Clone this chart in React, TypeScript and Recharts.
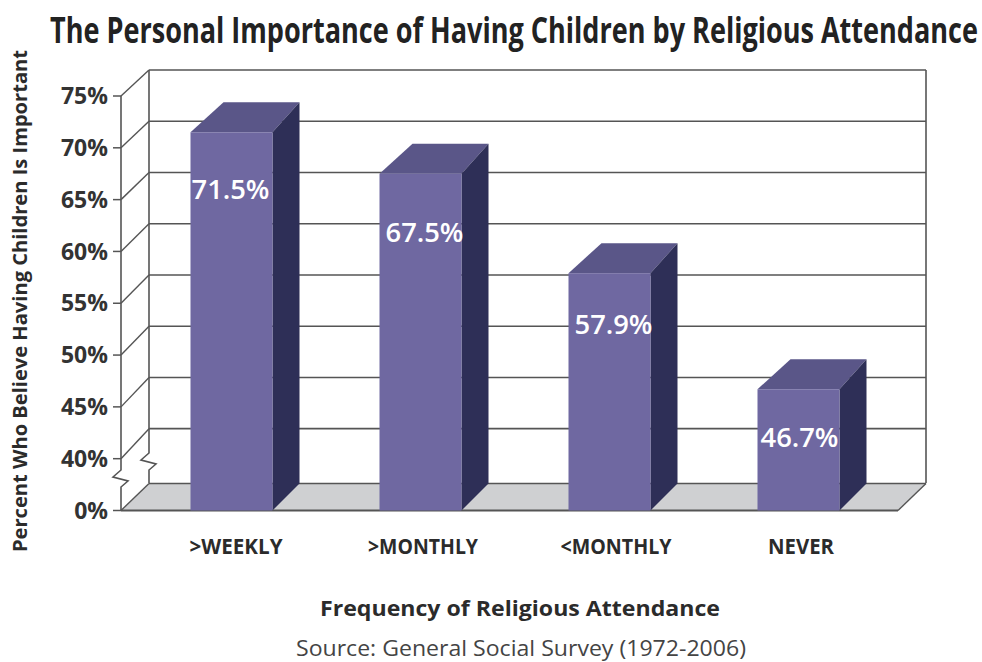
import React from 'react';
import { BarChart, Bar, XAxis, YAxis, CartesianGrid, LabelList } from 'recharts';

const CATEGORIES = ['>WEEKLY', '>MONTHLY', '<MONTHLY', 'NEVER'];
const VALUES = [71.5, 67.5, 57.9, 46.7];
// the axis is broken below 40%, so the step under 40 stands for the 0% line
const AXIS_TICKS = [35, 40, 45, 50, 55, 60, 65, 70, 75];

const chartData = CATEGORIES.map((name, i) => ({ name, value: VALUES[i] }));

const WIDTH = 982;
const HEIGHT = 662;
const PLOT_TOP = 96;
const PLOT_BOTTOM = 510.5;
const DEPTH_X = 28;

const LINE = '#555';
const FONT = "'Liberation Sans Narrow', 'Open Sans', sans-serif";
const OPEN = "'Open Sans', sans-serif";

// hand tuned to the reference
const TICK_WIDTHS = [93, 110, 111, 66];
const TICK_SHIFT = [5, 3, 7, 3];
const LABEL_DY = [67, 68, 61, 58];
const LABEL_SHIFT = [-1, 4, 4, 1];
const TITLE_SQUEEZE = 0.74;

// back wall sits up and right of the front plane
const backOffset = (y: number) => 26 + ((y - PLOT_TOP) * 4) / 361;

const WallLine = (props: any) => {
  const { x1, x2, y1 } = props;
  const isFloor = Math.abs(y1 - PLOT_BOTTOM) < 1;
  const isTop = Math.abs(y1 - PLOT_TOP) < 1;

  if (isFloor) {
    const by = y1 - 27;
    return (
      <g>
        <polygon
          points={`${x1},${y1} ${x1 + DEPTH_X},${by} ${x2 + DEPTH_X},${by} ${x2},${y1}`}
          fill="#cfd0d2"
        />
        <line x1={x1 + DEPTH_X} y1={by} x2={x2 + DEPTH_X} y2={by} stroke={LINE} strokeWidth={1.6} />
        <line x1={x1} y1={y1} x2={x1 + DEPTH_X} y2={by} stroke={LINE} strokeWidth={1.4} />
        <line x1={x2} y1={y1} x2={x2 + DEPTH_X} y2={by} stroke={LINE} strokeWidth={1.4} />
        <line x1={x1} y1={y1} x2={x2} y2={y1} stroke={LINE} strokeWidth={1.8} />
      </g>
    );
  }

  const by = y1 - backOffset(y1);
  return (
    <g>
      <line x1={x1} y1={y1} x2={x1 + DEPTH_X} y2={by} stroke={LINE} strokeWidth={1.4} />
      <line x1={x1 + DEPTH_X} y1={by} x2={x2 + DEPTH_X} y2={by} stroke={LINE} strokeWidth={1.6} />
      {isTop && (
        <g fill="none" stroke={LINE} strokeWidth={1.6}>
          {/* front and back verticals with the axis break */}
          <path d={`M${x1},${y1} V470 l-8,7 l15,4 l-7,6 V${PLOT_BOTTOM}`} />
          <path d={`M${x1 + DEPTH_X},${by} V453 l-8,7 l15,4 l-7,6 V483`} />
          <path d={`M${x2 + DEPTH_X},${by} V483`} />
        </g>
      )}
    </g>
  );
};

const Bar3D = (props: any) => {
  const { x, y, width, height } = props;
  const r = x + width;
  const b = y + height;
  return (
    <g>
      <polygon points={`${x},${y} ${x + 33},${y - 30} ${r + 27},${y - 30} ${r},${y}`} fill="#5a5688" />
      <polygon points={`${r},${y} ${r + 27},${y - 30} ${r + 27},${b - 27} ${r},${b}`} fill="#2e2f57" />
      <rect x={x} y={y} width={width} height={height} fill="#6f68a1" />
    </g>
  );
};

const ValueLabel = (props: any) => {
  const { x, y, width, value, index } = props;
  return (
    <text
      x={x + width / 2 + LABEL_SHIFT[index]}
      y={y + LABEL_DY[index]}
      textAnchor="middle"
      fill="#fff"
      fontFamily={OPEN}
      fontWeight={600}
      fontSize={27}
      textLength={78}
      lengthAdjust="spacingAndGlyphs"
    >
      {value}%
    </text>
  );
};

const CategoryTick = (props: any) => {
  const { x, payload, index } = props;
  return (
    <text
      x={x + TICK_SHIFT[index]}
      y={554}
      textAnchor="middle"
      fill="#2b2b2b"
      fontFamily={FONT}
      fontWeight={700}
      fontSize={22}
      textLength={TICK_WIDTHS[index]}
      lengthAdjust="spacingAndGlyphs"
    >
      {payload.value}
    </text>
  );
};

export default function App() {
  return (
    <div style={{ position: 'absolute', left: 0, top: 0, width: WIDTH, height: HEIGHT, background: '#fff' }}>
      <BarChart
        width={WIDTH}
        height={HEIGHT}
        data={chartData}
        margin={{ top: PLOT_TOP, right: 84, bottom: 121.5, left: 61 }}
      >
        <CartesianGrid
          horizontal={(p: any) => <WallLine key={p.key} {...p} />}
          vertical={false}
          horizontalValues={AXIS_TICKS}
        />
        <XAxis
          dataKey="name"
          height={30}
          axisLine={false}
          tickLine={false}
          interval={0}
          padding={{ left: 15.5, right: 5.5 }}
          tick={CategoryTick}
        />
        <YAxis
          width={60}
          type="number"
          domain={[35, 75]}
          ticks={AXIS_TICKS}
          interval={0}
          axisLine={false}
          tickSize={8}
          tickMargin={5}
          tickLine={{ stroke: LINE, strokeWidth: 1.5 }}
          tick={{ fill: '#333', fontFamily: OPEN, fontWeight: 700, fontSize: 23 }}
          tickFormatter={(v: number) => (v === 35 ? '0%' : `${v}%`)}
        />
        <Bar dataKey="value" barSize={82} shape={Bar3D} isAnimationActive={false}>
          <LabelList dataKey="value" content={ValueLabel} />
        </Bar>
        <text
          transform={`translate(50,43) scale(${TITLE_SQUEEZE},1)`}
          fill="#222"
          fontFamily={FONT}
          fontWeight={700}
          fontSize={35}
          textLength={928 / TITLE_SQUEEZE}
          lengthAdjust="spacingAndGlyphs"
        >
          The Personal Importance of Having Children by Religious Attendance
        </text>
        <text
          transform="translate(27,301) rotate(-90)"
          textAnchor="middle"
          fill="#2b2b2b"
          fontFamily={FONT}
          fontWeight={700}
          fontSize={20}
          textLength={502}
          lengthAdjust="spacingAndGlyphs"
        >
          Percent Who Believe Having Children Is Important
        </text>
        <text
          x={520}
          y={616}
          textAnchor="middle"
          fill="#2b2b2b"
          fontFamily={OPEN}
          fontWeight={700}
          fontSize={21}
          textLength={400}
          lengthAdjust="spacingAndGlyphs"
        >
          Frequency of Religious Attendance
        </text>
        <text
          x={521}
          y={656}
          textAnchor="middle"
          fill="#444"
          fontFamily={OPEN}
          fontSize={21}
          textLength={450}
          lengthAdjust="spacingAndGlyphs"
        >
          Source: General Social Survey (1972-2006)
        </text>
      </BarChart>
    </div>
  );
}
